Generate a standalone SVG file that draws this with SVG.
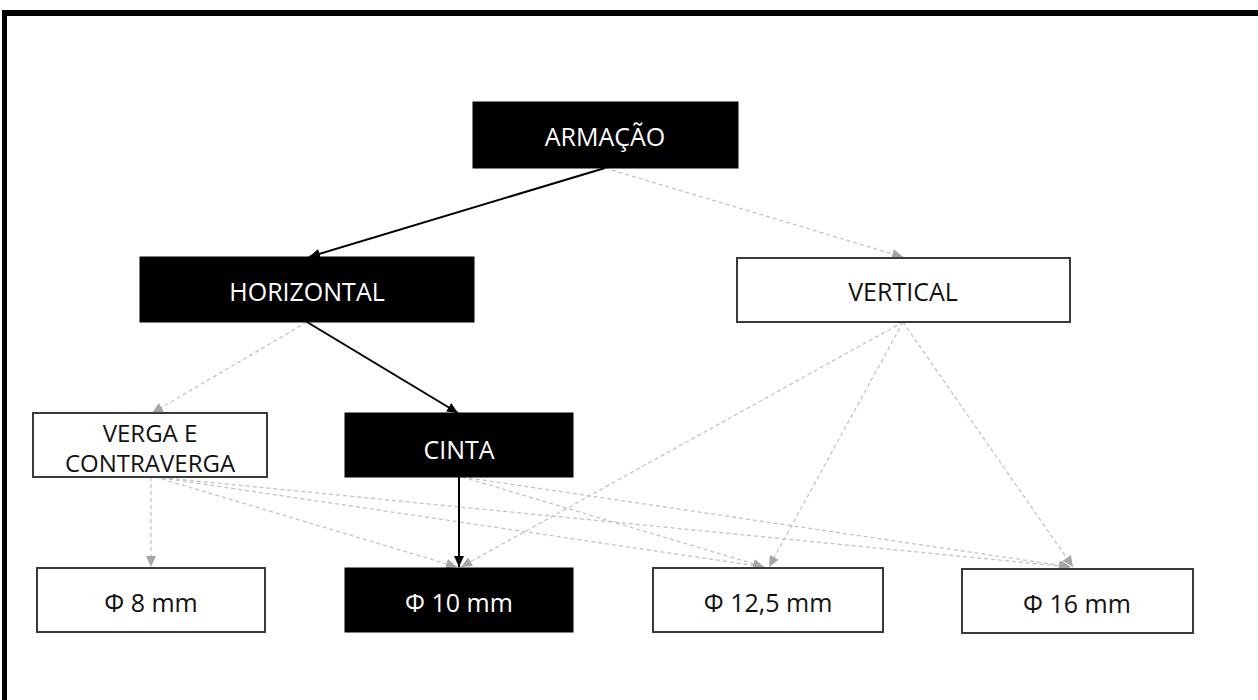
<svg xmlns="http://www.w3.org/2000/svg" width="1258" height="700" viewBox="0 0 1258 700">
  <style>
    .dark rect { fill: #000; stroke: #000; stroke-width: 1; }
    .light rect { fill: #fff; stroke: #3a3a3a; stroke-width: 2; }
    text { font-family: "Open Sans", "Liberation Sans", sans-serif; font-size: 25px; text-anchor: middle; }
    .dark text { fill: #fff; }
    .light text { fill: #111; }
    .solid { stroke: #000; stroke-width: 2; fill: none; }
    .dash { stroke: #c4c4c4; stroke-width: 1.3; stroke-dasharray: 4 3; fill: none; }
  </style>
  <defs>
    <marker id="ab" markerUnits="userSpaceOnUse" markerWidth="12" markerHeight="10" refX="11" refY="5" orient="auto">
      <path d="M0,0 L11,5 L0,10 Z" fill="#000"/>
    </marker>
    <marker id="ag" markerUnits="userSpaceOnUse" markerWidth="12" markerHeight="10" refX="11" refY="5" orient="auto">
      <path d="M0,0 L11,5 L0,10 Z" fill="#a6a6a6"/>
    </marker>
  </defs>
  <rect x="0" y="0" width="1258" height="700" fill="#fff"/>
  <rect x="2" y="10" width="1256" height="6" fill="#000"/>
  <rect x="2" y="10" width="5" height="690" fill="#000"/>

  <g id="connectors">
    <line class="dash" x1="605" y1="168" x2="903" y2="257" marker-end="url(#ag)"/>
    <line class="dash" x1="307" y1="322" x2="152" y2="413" marker-end="url(#ag)"/>
    <line class="dash" x1="903" y1="322" x2="461" y2="567" marker-end="url(#ag)"/>
    <line class="dash" x1="903" y1="322" x2="769" y2="567" marker-end="url(#ag)"/>
    <line class="dash" x1="903" y1="322" x2="1073" y2="567" marker-end="url(#ag)"/>
    <line class="dash" x1="151" y1="477" x2="151" y2="567" marker-end="url(#ag)"/>
    <line class="dash" x1="155" y1="477" x2="457" y2="567" marker-end="url(#ag)"/>
    <line class="dash" x1="155" y1="477" x2="764" y2="567" marker-end="url(#ag)"/>
    <line class="dash" x1="155" y1="477" x2="1070" y2="567" marker-end="url(#ag)"/>
    <line class="dash" x1="462" y1="477" x2="764" y2="567" marker-end="url(#ag)"/>
    <line class="dash" x1="462" y1="477" x2="1071" y2="567" marker-end="url(#ag)"/>
    <line class="solid" x1="605" y1="168" x2="309" y2="257" marker-end="url(#ab)"/>
    <line class="solid" x1="307" y1="322" x2="458" y2="413" marker-end="url(#ab)"/>
    <line class="solid" x1="459" y1="477" x2="459" y2="567" marker-end="url(#ab)"/>
  </g>

  <g id="armacao" class="dark">
    <rect x="473" y="102" width="265" height="66"/>
    <text x="605" y="146">ARMAÇÃO</text>
  </g>
  <g id="horizontal" class="dark">
    <rect x="140" y="257" width="334" height="65"/>
    <text x="307" y="301">HORIZONTAL</text>
  </g>
  <g id="vertical" class="light">
    <rect x="737" y="258" width="333" height="64"/>
    <text x="903" y="301">VERTICAL</text>
  </g>
  <g id="verga" class="light">
    <rect x="33" y="413" width="234" height="64"/>
    <text x="150" y="442" style="font-size:24px"><tspan x="150" y="442">VERGA E</tspan><tspan x="150" y="472">CONTRAVERGA</tspan></text>
  </g>
  <g id="cinta" class="dark">
    <rect x="345" y="413" width="228" height="64"/>
    <text x="459" y="459">CINTA</text>
  </g>
  <g id="phi8" class="light">
    <rect x="37" y="568" width="228" height="64"/>
    <text x="151" y="612">Φ 8 mm</text>
  </g>
  <g id="phi10" class="dark">
    <rect x="345" y="568" width="228" height="64"/>
    <text x="459" y="612">Φ 10 mm</text>
  </g>
  <g id="phi125" class="light">
    <rect x="653" y="568" width="230" height="64"/>
    <text x="768" y="612">Φ 12,5 mm</text>
  </g>
  <g id="phi16" class="light">
    <rect x="962" y="569" width="231" height="64"/>
    <text x="1077" y="613">Φ 16 mm</text>
  </g>
</svg>
